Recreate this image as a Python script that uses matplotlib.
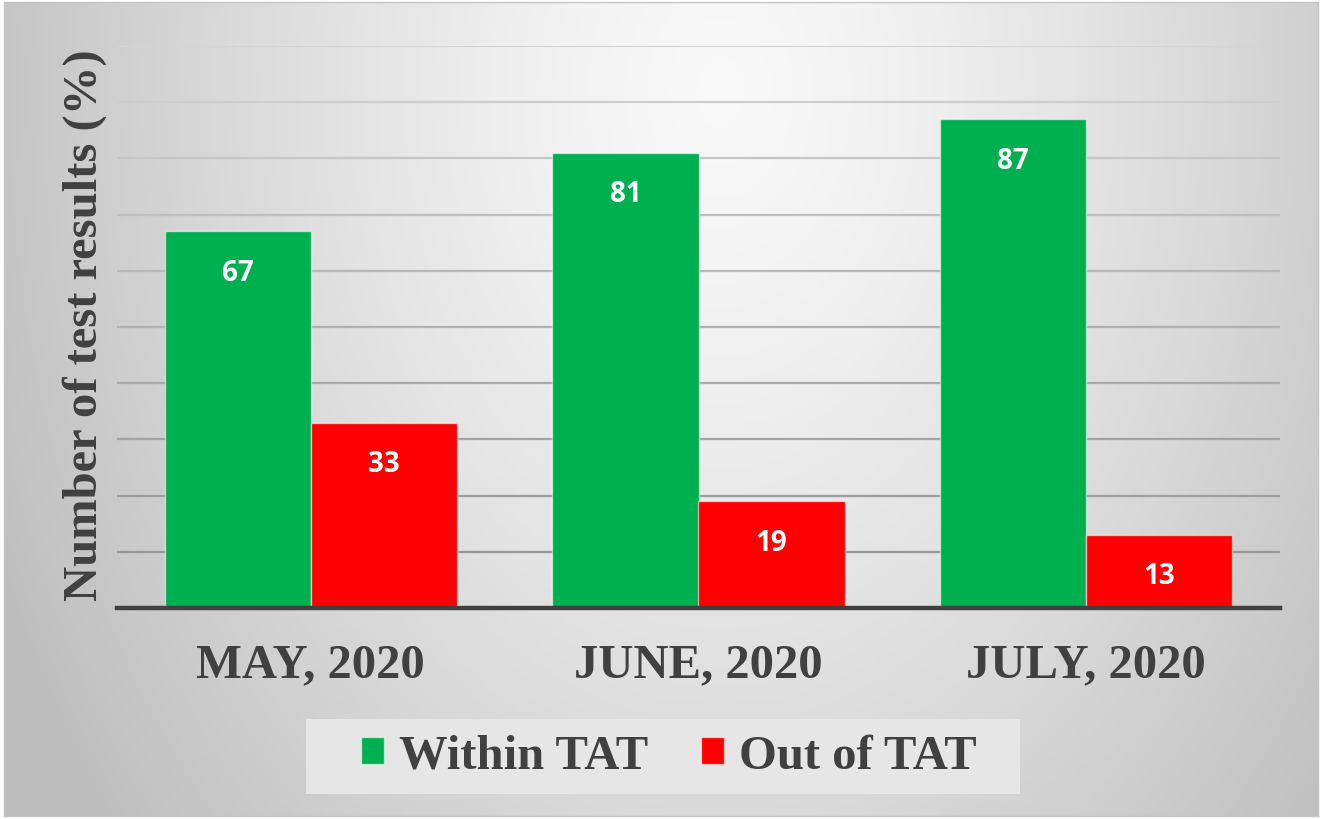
import numpy as np
import matplotlib
matplotlib.use("Agg")
import matplotlib.pyplot as plt
from matplotlib.patches import Rectangle

categories = ["MAY, 2020", "JUNE, 2020", "JULY, 2020"]
series_names = ["Within TAT", "Out of TAT"]
within_tat = [67, 81, 87]
out_of_tat = [33, 19, 13]
y_ticks = [0, 10, 20, 30, 40, 50, 60, 70, 80, 90, 100]
y_label = "Number of test results (%)"

GREEN = "#00B050"
RED = "#FF0000"
TEXT = "#404040"

W, H = 1322, 820
fig = plt.figure(figsize=(W / 100, H / 100), dpi=100)
fig.patch.set_facecolor("white")

# background gradient
bg = fig.add_axes([0.003, 0.004, 0.994, 0.992], zorder=-5)
xx, yy = np.meshgrid(np.linspace(0, W, 400), np.linspace(0, H, 250))
d = np.sqrt(((xx - 720) / 720.0) ** 2 + ((yy - 90) / 1050.0) ** 2)
val = 0.975 - 0.2 * np.clip(d, 0, 1.1) ** 1.3
img = np.dstack([val, val, val])
bg.imshow(img, aspect="auto", extent=[0, 1, 0, 1], origin="upper")
bg.set_xlim(0, 1)
bg.set_ylim(0, 1)
bg.set_xticks([])
bg.set_yticks([])
for s in bg.spines.values():
    s.set_color("#c4c4c4")
    s.set_linewidth(1.0)

# legend background box
fig.patches.append(Rectangle((306 / W, 1 - 795 / H), (1020 - 306) / W, 75 / H,
                             transform=fig.transFigure, facecolor="#e6e6e6",
                             edgecolor="none", zorder=-1))

ax = fig.add_axes([117 / W, 1 - 609 / H, (1280 - 117) / W, (609 - 47) / H])
ax.patch.set_alpha(0)

x = np.arange(len(categories))
bw = 0.377
b1 = ax.bar(x - bw / 2, within_tat, bw, color=GREEN, edgecolor=(1, 1, 1, 0.55),
            linewidth=1.0, label=series_names[0], zorder=3)
b2 = ax.bar(x + bw / 2, out_of_tat, bw, color=RED, edgecolor=(1, 1, 1, 0.55),
            linewidth=1.0, label=series_names[1], zorder=3)

for bars, vals in ((b1, within_tat), (b2, out_of_tat)):
    for rect, v in zip(bars, vals):
        ax.annotate(f"{v}", (rect.get_x() + rect.get_width() / 2, rect.get_height()),
                    xytext=(0, -29.5), textcoords="offset points", ha="center", va="center",
                    color="white", fontsize=20, fontweight="bold", family="Open Sans",
                    zorder=4)

ax.set_xlim(-0.5, len(categories) - 0.5)
ax.set_ylim(0, 100)
ax.set_yticks(y_ticks)
ax.yaxis.grid(True, linewidth=1.6, zorder=0)
ax.set_axisbelow(True)
for v, gl in zip(y_ticks, ax.get_ygridlines()):
    g = 0.56 + 0.27 * (v / 100.0)
    gl.set_color((g, g, g))
ax.tick_params(axis="y", length=0, labelleft=False)
ax.set_xticks(x)
ax.set_xticklabels(categories, fontsize=35, fontweight="bold",
                   family="Liberation Serif", color=TEXT)
ax.tick_params(axis="x", length=0, pad=25)

for side in ("top", "right", "left"):
    ax.spines[side].set_visible(False)
ax.spines["bottom"].set_color("#404040")
ax.spines["bottom"].set_linewidth(3.2)
ax.spines["bottom"].set_zorder(5)

ax.set_ylabel(y_label, fontsize=35, fontweight="bold", family="Liberation Serif",
              color=TEXT)
ax.yaxis.label.set_va("center")
ax.yaxis.set_label_coords(-0.028, 0.505)

leg = fig.legend(handles=[b1, b2], labels=series_names, loc="center",
                 bbox_to_anchor=(669 / W, 1 - 757 / H), ncol=2, frameon=False,
                 prop={"family": "Liberation Serif", "weight": "bold", "size": 35},
                 handlelength=0.47, handleheight=0.47, handletextpad=0.3,
                 columnspacing=1.1, borderpad=0.2)
for t in leg.get_texts():
    t.set_color(TEXT)

fig.savefig("out.png", dpi=100)
